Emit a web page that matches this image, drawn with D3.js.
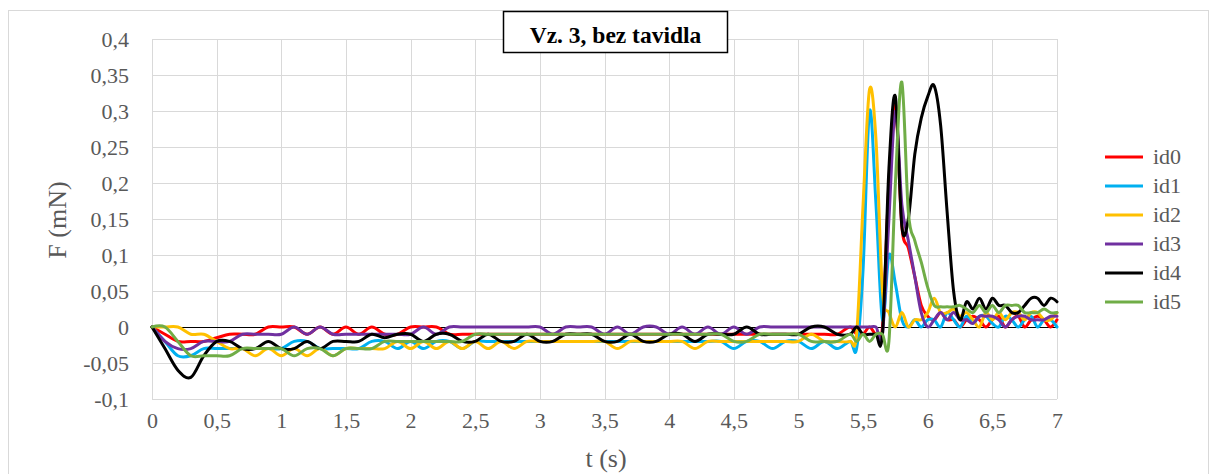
<!DOCTYPE html>
<html>
<head>
<meta charset="utf-8">
<script src="https://cdn.jsdelivr.net/npm/d3@7"></script>
<style>
  html, body { margin: 0; padding: 0; background: #ffffff; }
  svg { display: block; }
  text { font-family: "Liberation Serif", "Times New Roman", serif; }
</style>
</head>
<body>
<svg id="chart" width="1217" height="474"></svg>
<script>
// Sample times (s): 0.1 s steps up to 5.4 s, then 0.05 s steps to 7 s
const times = [
  0, 0.1, 0.2, 0.3, 0.4, 0.5, 0.6, 0.7, 0.8, 0.9,
  1.0, 1.1, 1.2, 1.3, 1.4, 1.5, 1.6, 1.7, 1.8, 1.9,
  2.0, 2.1, 2.2, 2.3, 2.4, 2.5, 2.6, 2.7, 2.8, 2.9,
  3.0, 3.1, 3.2, 3.3, 3.4, 3.5, 3.6, 3.7, 3.8, 3.9,
  4.0, 4.1, 4.2, 4.3, 4.4, 4.5, 4.6, 4.7, 4.8, 4.9,
  5.0, 5.1, 5.2, 5.3, 5.4,
  5.45, 5.5, 5.55, 5.6, 5.65, 5.7, 5.75, 5.8, 5.85, 5.9, 5.95,
  6.0, 6.05, 6.1, 6.15, 6.2, 6.25, 6.3, 6.35, 6.4, 6.45, 6.5,
  6.55, 6.6, 6.65, 6.7, 6.75, 6.8, 6.85, 6.9, 6.95, 7.0
];

// Force F (mN) per measurement
const id0 = [
  0, -0.01, -0.02, -0.02, -0.02, -0.015, -0.01, -0.01, -0.01, 0,
  0, 0, -0.01, 0, -0.01, 0, -0.01, 0, -0.01, -0.01,
  0, 0, 0, -0.01, -0.01, -0.01, -0.01, -0.01, -0.01, -0.01,
  -0.01, -0.01, -0.01, -0.01, -0.01, -0.01, -0.01, -0.01, -0.01, -0.01,
  -0.01, -0.01, -0.01, -0.01, -0.01, -0.01, -0.01, -0.01, -0.01, -0.01,
  -0.01, -0.01, -0.01, -0.01, 0,
  -0.01, -0.01, 0, -0.01, 0, 0.2, 0.31, 0.14, 0.11, 0.07, 0.03,
  0.015, 0.01, 0.02, 0.01, 0.01, 0, 0.01, 0.015, 0.01, 0, 0.01,
  0.015, 0, 0.01, 0.015, 0, 0.01, 0.015, 0.01, 0, 0.01
];
const id1 = [
  0, -0.02, -0.04, -0.04, -0.03, -0.03, -0.03, -0.03, -0.03, -0.03,
  -0.03, -0.02, -0.02, -0.03, -0.03, -0.03, -0.03, -0.02, -0.02, -0.03,
  -0.02, -0.03, -0.02, -0.02, -0.03, -0.02, -0.02, -0.02, -0.02, -0.02,
  -0.02, -0.02, -0.02, -0.02, -0.02, -0.02, -0.02, -0.02, -0.02, -0.02,
  -0.02, -0.02, -0.02, -0.02, -0.02, -0.03, -0.02, -0.02, -0.03, -0.02,
  -0.02, -0.03, -0.02, -0.03, -0.02,
  -0.03, 0.08, 0.30, 0.17, 0.01, 0.10, 0.06, 0.01, 0, 0.01, 0,
  0.01, 0.01, 0, 0.02, 0.01, 0, 0.015, 0.005, 0.015, 0.015, 0.005,
  0, 0.015, 0.01, 0, 0.01, 0.015, 0, 0.01, 0.01, 0
];
const id2 = [
  0, 0, 0, -0.01, -0.01, -0.02, -0.03, -0.03, -0.04, -0.03,
  -0.04, -0.03, -0.04, -0.03, -0.04, -0.03, -0.03, -0.03, -0.03, -0.02,
  -0.03, -0.02, -0.03, -0.02, -0.03, -0.02, -0.03, -0.02, -0.03, -0.02,
  -0.02, -0.02, -0.02, -0.02, -0.02, -0.02, -0.03, -0.02, -0.02, -0.02,
  -0.02, -0.02, -0.03, -0.02, -0.02, -0.02, -0.02, -0.02, -0.02, -0.02,
  -0.02, -0.01, -0.02, -0.02, -0.02,
  -0.01, 0.17, 0.33, 0.26, 0.05, 0.02, 0, 0.02, 0, 0.01, 0.01,
  0.02, 0.04, 0.02, 0.02, 0.025, 0.015, 0.02, 0.01, 0, 0.02, 0.01,
  0.02, 0.01, 0.02, 0.02, 0.01, 0.02, 0.02, 0.01, 0.01, 0.02
];
const id3 = [
  0, -0.02, -0.03, -0.03, -0.02, -0.02, -0.02, -0.01, -0.01, -0.01,
  -0.01, 0, -0.01, 0, -0.01, -0.01, -0.01, -0.01, -0.01, -0.01,
  -0.01, 0, -0.01, 0, 0, 0, 0, 0, 0, 0,
  0, -0.01, 0, 0, 0, -0.01, 0, -0.01, 0, 0,
  -0.01, 0, -0.01, 0, -0.01, 0, -0.01, 0, 0, 0,
  0, 0, 0, 0, 0,
  0, 0, 0, 0, -0.01, 0.15, 0.30, 0.17, 0.12, 0.07, 0.02,
  0, 0.01, 0.02, 0.01, 0.02, 0.01, 0.01, 0.005, 0.015, 0.015, 0.015,
  0.01, 0, 0.01, 0.015, 0.015, 0.01, 0.01, 0.01, 0.015, 0.015
];
const id4 = [
  0, -0.03, -0.06, -0.07, -0.04, -0.02, -0.02, -0.03, -0.03, -0.02,
  -0.03, -0.03, -0.02, -0.03, -0.02, -0.02, -0.02, -0.01, -0.015, -0.01,
  -0.01, -0.02, -0.01, -0.01, -0.02, -0.02, -0.01, -0.02, -0.02, -0.01,
  -0.02, -0.02, -0.01, -0.01, -0.01, -0.02, -0.02, -0.01, -0.02, -0.02,
  -0.01, -0.01, -0.02, -0.01, -0.01, -0.01, 0, -0.01, -0.01, -0.01,
  -0.01, 0, 0, -0.01, -0.01,
  0, -0.01, -0.01, -0.01, -0.01, 0.22, 0.32, 0.14, 0.15, 0.24, 0.29,
  0.32, 0.335, 0.28, 0.16, 0.05, 0.01, 0.035, 0.025, 0.04, 0.025, 0.04,
  0.03, 0.03, 0.02, 0.02, 0.03, 0.04, 0.04, 0.03, 0.04, 0.035
];
const id5 = [
  0, 0, -0.02, -0.04, -0.04, -0.04, -0.04, -0.03, -0.03, -0.03,
  -0.03, -0.04, -0.03, -0.03, -0.04, -0.03, -0.03, -0.03, -0.02, -0.02,
  -0.02, -0.02, -0.02, -0.02, -0.02, -0.01, -0.01, -0.01, -0.01, -0.01,
  -0.01, -0.01, -0.01, -0.01, -0.01, -0.01, -0.01, -0.01, -0.01, -0.01,
  -0.01, -0.01, -0.01, -0.01, -0.01, -0.02, -0.02, -0.01, -0.01, -0.01,
  -0.01, -0.02, -0.02, -0.02, -0.01,
  -0.02, -0.01, -0.02, -0.01, -0.01, -0.02, 0.2, 0.34, 0.16, 0.12, 0.09,
  0.055, 0.03, 0.028, 0.028, 0.028, 0.03, 0.025, 0.02, 0.03, 0.02, 0.03,
  0.02, 0.03, 0.03, 0.03, 0.02, 0.02, 0.02, 0.025, 0.02, 0.02
];

const seriesNames = ["id0", "id1", "id2", "id3", "id4", "id5"];
const seriesValues = [id0, id1, id2, id3, id4, id5];
const seriesColors = ["#ff0000", "#00b0f0", "#ffc000", "#7030a0", "#000000", "#70ad47"];

const xTicks = [0, 0.5, 1, 1.5, 2, 2.5, 3, 3.5, 4, 4.5, 5, 5.5, 6, 6.5, 7];
const yTicks = [-0.1, -0.05, 0, 0.05, 0.1, 0.15, 0.2, 0.25, 0.3, 0.35, 0.4];

const titleText = "Vz. 3, bez tavidla";
const xTitle = "t (s)";
const yTitle = "F (mN)";

// ---- layout ----
const plot = { left: 152, right: 1057, top: 39, bottom: 399 };
const svg = d3.select("#chart");

const x = d3.scaleLinear().domain([0, 7]).range([plot.left, plot.right]);
const y = d3.scaleLinear().domain([-0.1, 0.4]).range([plot.bottom, plot.top]);

const fmt = v => String(+v.toFixed(2)).replace(".", ",");

// outer chart frame
svg.append("rect")
  .attr("x", 8.5).attr("y", 10.5)
  .attr("width", 1200).attr("height", 480)
  .attr("fill", "#ffffff").attr("stroke", "#d9d9d9").attr("stroke-width", 1);

// horizontal gridlines + y tick labels
const yAxis = d3.axisLeft(y)
  .tickValues(yTicks)
  .tickSize(-(plot.right - plot.left))
  .tickPadding(23)
  .tickFormat(fmt);
const gy = svg.append("g")
  .attr("transform", `translate(${plot.left},0)`)
  .call(yAxis);
gy.select(".domain").attr("stroke", "#d9d9d9");
gy.selectAll(".tick line").attr("stroke", "#d9d9d9").attr("stroke-width", 1)
  .attr("shape-rendering", "crispEdges");
gy.selectAll(".tick text")
  .attr("fill", "#595959")
  .style("font-family", "'Liberation Serif', serif")
  .style("font-size", "22px");

// vertical gridlines + x tick labels
const xAxis = d3.axisBottom(x)
  .tickValues(xTicks)
  .tickSize(-(plot.bottom - plot.top))
  .tickPadding(13)
  .tickFormat(fmt);
const gx = svg.append("g")
  .attr("transform", `translate(0,${plot.bottom})`)
  .call(xAxis);
gx.select(".domain").remove();
gx.selectAll(".tick line").attr("stroke", "#d9d9d9").attr("stroke-width", 1)
  .attr("shape-rendering", "crispEdges");
gx.selectAll(".tick text")
  .attr("fill", "#595959")
  .attr("dy", "0.71em")
  .style("font-family", "'Liberation Serif', serif")
  .style("font-size", "22px");

// horizontal axis line at F = 0
svg.append("line")
  .attr("x1", x(0)).attr("x2", x(7))
  .attr("y1", y(0)).attr("y2", y(0))
  .attr("stroke", "#000000").attr("stroke-width", 1)
  .attr("shape-rendering", "crispEdges");

// series lines (smoothed)
const line = d3.line()
  .x((d, i) => x(times[i]))
  .y(d => y(d))
  .curve(d3.curveCardinal.tension(0));

const gLines = svg.append("g");
seriesValues.forEach((vals, k) => {
  gLines.append("path")
    .datum(vals)
    .attr("d", line)
    .attr("fill", "none")
    .attr("stroke", seriesColors[k])
    .attr("stroke-width", 3)
    .attr("stroke-linejoin", "round")
    .attr("stroke-linecap", "round");
});

// axis titles
svg.append("text")
  .attr("transform", "translate(66,220) rotate(-90)")
  .attr("text-anchor", "middle")
  .attr("fill", "#595959")
  .style("font-size", "26px")
  .text(yTitle);

svg.append("text")
  .attr("x", 606).attr("y", 467)
  .attr("text-anchor", "middle")
  .attr("fill", "#595959")
  .style("font-size", "26px")
  .text(xTitle);

// chart title in a framed box
svg.append("rect")
  .attr("x", 503.5).attr("y", 11.5)
  .attr("width", 224).attr("height", 41)
  .attr("fill", "#ffffff").attr("stroke", "#000000").attr("stroke-width", 1.5);
svg.append("text")
  .attr("x", 615.5).attr("y", 43)
  .attr("text-anchor", "middle")
  .attr("fill", "#000000")
  .style("font-size", "23.5px")
  .style("font-weight", "bold")
  .text(titleText);

// legend
const legend = svg.append("g");
seriesNames.forEach((name, k) => {
  const cy = 157 + k * 29;
  legend.append("line")
    .attr("x1", 1105).attr("x2", 1143)
    .attr("y1", cy).attr("y2", cy)
    .attr("stroke", seriesColors[k]).attr("stroke-width", 3);
  legend.append("text")
    .attr("x", 1153).attr("y", cy + 7)
    .attr("fill", "#595959")
    .style("font-size", "22px")
    .text(name);
});
</script>
</body>
</html>
